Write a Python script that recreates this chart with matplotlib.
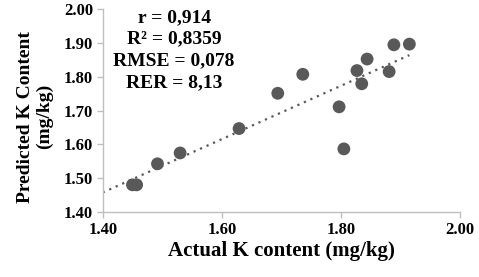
import numpy as np
import matplotlib
matplotlib.use("Agg")
import matplotlib.pyplot as plt

actual = [1.450, 1.457, 1.492, 1.530, 1.629, 1.694, 1.736, 1.797, 1.805, 1.827, 1.835, 1.844, 1.881, 1.889, 1.915]
predicted = [1.481, 1.481, 1.543, 1.575, 1.647, 1.751, 1.807, 1.711, 1.587, 1.818, 1.779, 1.852, 1.815, 1.894, 1.896]
xticks = [1.40, 1.60, 1.80, 2.00]
yticks = [1.40, 1.50, 1.60, 1.70, 1.80, 1.90, 2.00]
stats_text = "r = 0,914\nR² = 0,8359\nRMSE = 0,078\nRER = 8,13"

plt.rcParams['font.family'] = ['Liberation Serif', 'DejaVu Serif']
plt.rcParams['font.weight'] = 'bold'

fig = plt.figure(figsize=(4.79, 2.77), dpi=100)
ax = fig.add_axes([0.2144, 0.2336, 0.9603 - 0.2144, 0.968 - 0.2336])

x = np.array(actual)
y = np.array(predicted)
m, b = np.polyfit(x, y, 1)
xl = np.array([1.40, x.max()])
ax.plot(xl, m * xl + b, linestyle=(0, (1, 2.2)), color='#595959', linewidth=1.6, zorder=1)
ax.scatter(x, y, s=85, color='#595959', edgecolors='none', zorder=2)

ax.set_xlim(1.40, 2.00)
ax.set_ylim(1.40, 2.00)
ax.set_xticks(xticks)
ax.set_yticks(yticks)
ax.set_xticklabels([f"{t:.2f}" for t in xticks], fontsize=12, fontweight='bold')
ax.set_yticklabels([f"{t:.2f}" for t in yticks], fontsize=12, fontweight='bold')
for s in ['top', 'right']:
    ax.spines[s].set_visible(False)
for s in ['left', 'bottom']:
    ax.spines[s].set_color('#bfbfbf')
    ax.spines[s].set_linewidth(1.0)
ax.tick_params(axis='both', direction='out', length=4, color='#bfbfbf', width=1.0, pad=3)

ax.set_xlabel("Actual K content (mg/kg)", fontsize=15, fontweight='bold', labelpad=2)
ax.set_ylabel("Predicted K Content\n(mg/kg)", fontsize=14, fontweight='bold', linespacing=1.1)
ax.yaxis.set_label_coords(-0.14, 0.47)

ax.text(0.2, 1.0, stats_text, transform=ax.transAxes, ha='center', va='top',
        fontsize=14, fontweight='bold', linespacing=1.37)

fig.savefig("out.png", dpi=100)
